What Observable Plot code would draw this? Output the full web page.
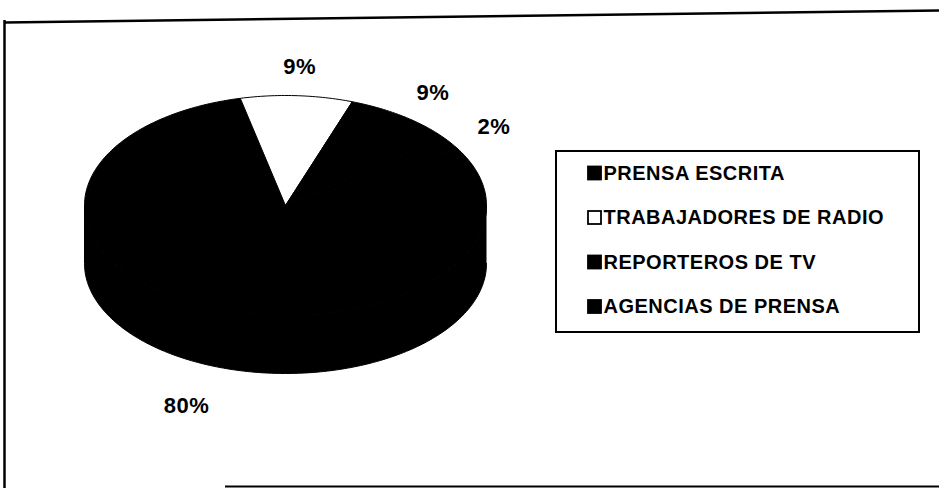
<!DOCTYPE html>
<html><head><meta charset="utf-8">
<script src="https://cdn.jsdelivr.net/npm/d3@7"></script>
<script src="https://cdn.jsdelivr.net/npm/@observablehq/plot@0.6"></script>
<style>html,body{margin:0;padding:0;background:#fff;} svg{display:block}</style>
</head><body><div id="chart"></div>
<script>
// ---- data ----
const categories = ["PRENSA ESCRITA", "TRABAJADORES DE RADIO", "REPORTEROS DE TV", "AGENCIAS DE PRENSA"];
const values = [80, 9, 9, 2];
const valueLabels = ["80%", "9%", "9%", "2%"];
const sliceColors = ["#000000", "#ffffff", "#000000", "#000000"];

// ---- layout ----
const W = 939, H = 488;
const cx = 285, cy = 205, rx = 201, ry = 110, depth = 58;
const startDeg = 59;
const labelK = 1.26, lowerLabelExtra = 15;
const FONT = "'Liberation Sans', Arial, Helvetica, sans-serif";

const data = categories.map((c, i) => ({cat: c, value: values[i], label: valueLabels[i], i}));
const pie = d3.pie().sort(null).value(d => d.value)
  .startAngle(startDeg * Math.PI / 180).endAngle((startDeg + 360) * Math.PI / 180);
const arcs = pie(data);

const px = a => cx + rx * Math.sin(a);
const py = a => cy - ry * Math.cos(a);
const STEP = Math.PI / 180;
function arcPts(a0, a1, dy) {
  const n = Math.max(2, Math.ceil(Math.abs(a1 - a0) / STEP));
  const pts = [];
  for (let k = 0; k <= n; k++) { const a = a0 + (a1 - a0) * k / n; pts.push([px(a), py(a) + dy]); }
  return pts;
}

// side walls (front, lower half)
const wallRows = [];
arcs.forEach((d, si) => {
  for (let k = -1; k <= 2; k++) {
    const lo = Math.max(d.startAngle, Math.PI / 2 + 2 * Math.PI * k);
    const hi = Math.min(d.endAngle, 3 * Math.PI / 2 + 2 * Math.PI * k);
    if (lo < hi) {
      const pts = arcPts(lo, hi, 0).concat(arcPts(hi, lo, depth));
      pts.forEach(p => wallRows.push({key: "w" + si + "_" + k, cat: d.data.cat, x: p[0], y: p[1]}));
    }
  }
});
// top sectors
const topRows = [];
arcs.forEach((d, si) => {
  const pts = [[cx, cy]].concat(arcPts(d.startAngle, d.endAngle, 0), [[cx, cy]]);
  pts.forEach(p => topRows.push({key: "t" + si, cat: d.data.cat, x: p[0], y: p[1]}));
});

// value labels
const labelRows = arcs.map(d => {
  const m = (d.startAngle + d.endAngle) / 2;
  const lower = Math.cos(m) < 0;
  return {
    text: d.data.label,
    x: cx + labelK * rx * Math.sin(m),
    y: cy - labelK * ry * Math.cos(m) + (lower ? depth + lowerLabelExtra : 0)
  };
});

// legend
const legX1 = 556, legX2 = 919, legY1 = 151, legY2 = 332;
const rowY0 = 173, rowStep = 44.5, swX = 588, sw = 13, txtX = 603;
const rowY = i => rowY0 + i * rowStep;

const svg = Plot.plot({
  width: W, height: H, margin: 0,
  x: {type: "identity", axis: null},
  y: {type: "identity", axis: null},
  color: {domain: categories, range: sliceColors},
  style: {fontFamily: FONT, background: "#fff", color: "#000"},
  marks: [
    // outer frame (scanned page border)
    Plot.link([0], {x1: () => 4, y1: () => 22, x2: () => 939, y2: () => 10, stroke: "black", strokeWidth: 2.5}),
    Plot.ruleX([4], {y1: 20, y2: 488, stroke: "black", strokeWidth: 2.5}),
    Plot.ruleY([486], {x1: 225, x2: 939, stroke: "black", strokeWidth: 2}),
    // pie
    Plot.line(wallRows, {x: "x", y: "y", z: "key", fill: "cat", stroke: "black", strokeWidth: 1, curve: "linear"}),
    Plot.line(topRows, {x: "x", y: "y", z: "key", fill: "cat", stroke: "black", strokeWidth: 1, curve: "linear"}),
    Plot.text(labelRows, {x: "x", y: "y", text: "text", fontSize: 22, fontWeight: "bold", fill: "black", textAnchor: "middle"}),
    // legend
    Plot.rect([0], {x1: () => legX1, x2: () => legX2, y1: () => legY1, y2: () => legY2, fill: "white", stroke: "black", strokeWidth: 2}),
    Plot.rect(data, {x1: () => swX, x2: () => swX + sw, y1: d => rowY(d.i) - sw / 2, y2: d => rowY(d.i) + sw / 2,
      fill: "cat", stroke: "black", strokeWidth: 1.8}),
    Plot.text(data, {x: () => txtX, y: d => rowY(d.i), text: "cat", textAnchor: "start", fontSize: 20, fontWeight: "bold", fill: "black"})
  ]
});
svg.style.letterSpacing = "0.5px";
document.getElementById("chart").appendChild(svg);
</script>
</body></html>
